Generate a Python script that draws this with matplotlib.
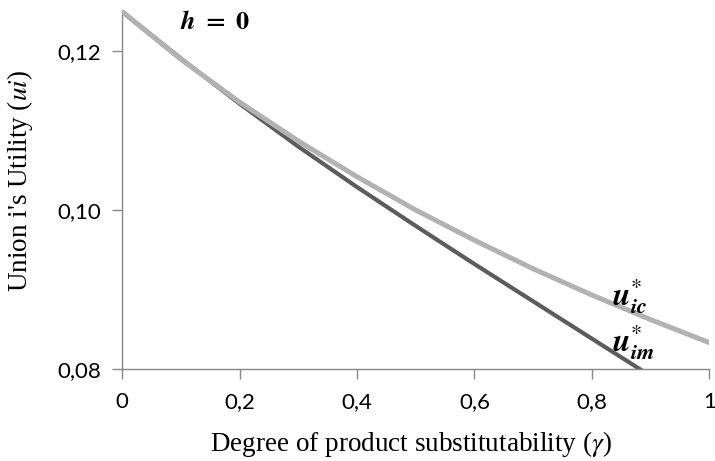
import matplotlib
matplotlib.use("Agg")
import matplotlib.pyplot as plt
import numpy as np

# values
gamma = [0.0, 0.1, 0.2, 0.3, 0.4, 0.5, 0.6, 0.7, 0.8, 0.9, 1.0]
u_ic = [0.1250, 0.1190, 0.1136, 0.1087, 0.1042, 0.1000, 0.0962, 0.0926, 0.0893, 0.0862, 0.0833]
u_im = [0.1250, 0.1191, 0.1134, 0.1080, 0.1029, 0.0980, 0.0932, 0.0885, 0.0838, 0.0791, 0.0744]

x_ticks = [0, 0.2, 0.4, 0.6, 0.8, 1.0]
x_labels = ["0", "0,2", "0,4", "0,6", "0,8", "1"]
y_ticks = [0.08, 0.10, 0.12]
y_labels = ["0,08", "0,10", "0,12"]

plt.rcParams['mathtext.fontset'] = 'stix'

fig = plt.figure(figsize=(7.15, 4.61), dpi=100)
ax = fig.add_axes([0.171, 0.200, 0.821, 0.778])

ax.plot(gamma, u_im, color="#5c5c5c", lw=3.0, solid_capstyle="butt", zorder=2)
ax.plot(gamma, u_ic, color="#b2b2b2", lw=3.6, solid_capstyle="round", zorder=3)

ax.set_xlim(0, 1)
ax.set_ylim(0.08, 0.1252)

ax.set_xticks(x_ticks)
ax.set_xticklabels(x_labels, fontfamily="Lato", fontsize=16)
ax.set_yticks(y_ticks)
ax.set_yticklabels(y_labels, fontfamily="Lato", fontsize=16)
ax.tick_params(direction="out", length=7, width=1, color="#888888")
ax.tick_params(axis="x", pad=10)
ax.tick_params(axis="y", pad=8)

for s in ["top", "right"]:
    ax.spines[s].set_visible(False)
for s in ["left", "bottom"]:
    ax.spines[s].set_color("#888888")
    ax.spines[s].set_linewidth(1)

ax.set_xlabel(r"Degree of product substitutability ($\gamma$)", fontfamily="Liberation Serif", fontsize=19.5)
ax.set_ylabel(r"Union i's Utility ($ui$)", fontfamily="Liberation Serif", fontsize=19.5)
ax.xaxis.set_label_coords(0.492, -0.168)
ax.yaxis.set_label_coords(-0.148, 0.524)

ax.text(0.157, 0.1237, r"$\mathbfit{h}\ \mathbf{=}\ \mathbf{0}$", fontsize=19, ha="center", va="center")
ax.text(0.835, 0.0892, r"$\mathbfit{u}_{\mathbfit{ic}}^{*}$", fontsize=23, ha="left", va="center")
ax.text(0.835, 0.0833, r"$\mathbfit{u}_{\mathbfit{im}}^{*}$", fontsize=23, ha="left", va="center")

fig.savefig("out.png", dpi=100)
